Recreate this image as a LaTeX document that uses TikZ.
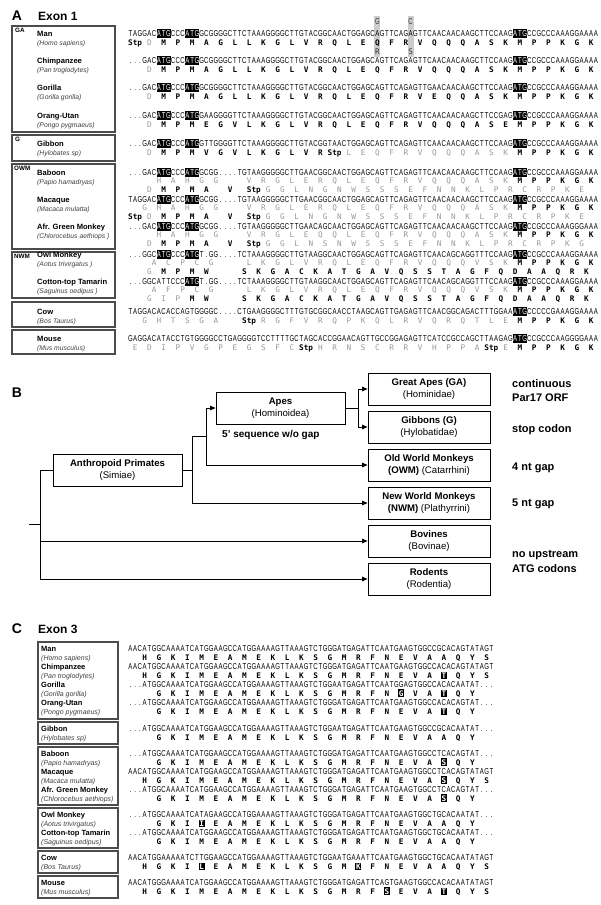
\documentclass[tikz,border=0pt]{standalone}
\usepackage{fontspec}
\setmainfont{Liberation Sans}
\newfontfamily\dnaf[FakeStretch=0.7]{Liberation Sans}
\newfontfamily\aaf{DejaVu Sans Mono}
\usetikzlibrary{arrows.meta}
\definecolor{aagray}{gray}{0.6}
\definecolor{boxgray}{gray}{0.3}
\newlength\cw \setlength\cw{4.75pt}
\makeatletter
\newif\ifdnahl
\newif\ifaagr
\newif\ifaahl
\def\tokLB{[}\def\tokRB{]}
\def\tokLT{<}\def\tokGT{>}\def\tokST{*}\def\tokUS{_}\def\tokDOT{.}
\newcommand\dna[1]{{\dnaf\fontsize{8.6}{9}\selectfont\dnahlfalse
  \@tfor\ntok:=#1\do{\dnacell}}}
\newcommand\dnacell{%
  \ifx\ntok\tokLB\dnahltrue\else
  \ifx\ntok\tokRB\dnahlfalse\else
  \ifdnahl\rlap{\color{black}\rule[-1.9pt]{\cw}{8.8pt}}\makebox[\cw][c]{\color{white}\ntok}%
  \else\makebox[\cw][c]{\ntok}\fi\fi\fi}
\newcommand\aarow[1]{{\aaf\fontsize{7.7}{9}\selectfont\aagrfalse\aahlfalse
  \@tfor\atok:=#1\do{\aacell}}}
\newcommand\aacell{%
  \ifx\atok\tokLT\aagrtrue\else
  \ifx\atok\tokGT\aagrfalse\else
  \ifx\atok\tokST\aahltrue\else
  \ifx\atok\tokUS\hspace*{\cw}\else
  \ifx\atok\tokDOT\hspace*{3\cw}\else
  \ifaahl\makebox[3\cw][c]{\hlbox{\atok}}\aahlfalse
  \else\ifaagr\makebox[3\cw][c]{\color{aagray}\atok}%
  \else\makebox[3\cw][c]{\bfseries\atok}\fi\fi
  \fi\fi\fi\fi\fi}
\newcommand\hlbox[1]{\setlength\fboxsep{0.8pt}\colorbox{black}{\color{white}\bfseries#1}}
\makeatother
\tikzset{
  seq/.style={anchor=base west, inner sep=0pt, outer sep=0pt},
  nm/.style={anchor=base west, inner sep=0pt, font=\fontsize{7.6}{9}\selectfont\bfseries},
  lt/.style={anchor=base west, inner sep=0pt, font=\fontsize{6.8}{9}\selectfont\itshape, text=black!75},
  nmC/.style={anchor=base west, inner sep=0pt, font=\fontsize{7.5}{9}\selectfont\bfseries},
  ltC/.style={anchor=base west, inner sep=0pt, font=\fontsize{7.0}{9}\selectfont\itshape, text=black!75},
  grp/.style={anchor=base west, inner sep=0pt, font=\fontsize{6.3}{7}\selectfont\bfseries},
  spbox/.style={draw=boxgray, line width=1.1pt},
  plab/.style={anchor=base, inner sep=0pt, font=\fontsize{14}{14}\selectfont\bfseries},
  ptitle/.style={anchor=base west, inner sep=0pt, font=\fontsize{12}{12}\selectfont\bfseries},
  tbox/.style={draw, line width=0.8pt, minimum width=122pt, minimum height=32pt, align=center, inner sep=1pt, font=\fontsize{9.6}{12.5}\selectfont},
  rl/.style={anchor=base west, inner sep=0pt, font=\fontsize{11}{13}\selectfont\bfseries},
  ln/.style={line width=0.8pt, black},
  arr/.style={line width=0.8pt, black, -{Triangle[length=5.5pt,width=4.5pt]}},
  var/.style={anchor=base, inner sep=0pt, text=black!80}
}
\newcommand\dnarow[3]{\node[seq] (#1) at (128,#2) {\dna{#3}};}
\newcommand\aminorow[3]{\node[seq] (#1) at (128,#2) {\aarow{#3}};}
\newcommand\spec[4]{\node[nm] (#1) at (37,#2) {#3}; \node[lt] (#1l) at (37,{#2+9}) {#4};}
\newcommand\specC[4]{\node[nmC] (#1) at (41,#2) {#3}; \node[ltC] (#1l) at (41,{#2+9}) {#4};}
\begin{document}
\begin{tikzpicture}[x=1pt,y=-1pt]
\path[use as bounding box, fill=white] (0,0) rectangle (600,905);

% ================= Panel A =================
\node[plab] (labA) at (17,20.5) {A};
\node[ptitle] (ex1) at (38,20) {Exon 1};

% polymorphism columns
\fill[gray!40] (374.4,16) rectangle (380.4,57);
\fill[gray!40] (407.6,16) rectangle (413.6,57);
\node[var] (vG) at (377.4,24) {\dnaf\fontsize{8.6}{9}\selectfont G};
\node[var] (vC) at (410.6,24) {\dnaf\fontsize{8.6}{9}\selectfont C};
\node[var] (vR) at (377.4,54) {\aaf\fontsize{7.7}{9}\selectfont R};
\node[var] (vS) at (410.6,54) {\aaf\fontsize{7.7}{9}\selectfont S};

% species boxes
\draw[spbox] (12,26) rectangle (115,132);
\draw[spbox] (12,135) rectangle (115,161);
\draw[spbox] (12,164) rectangle (115,249);
\draw[spbox] (12,252) rectangle (115,298);
\draw[spbox] (12,302) rectangle (115,327);
\draw[spbox] (12,330) rectangle (115,354);
\node[grp] (gGA) at (15,32) {GA};
\node[grp] (gG) at (15,141) {G};
\node[grp] (gOWM) at (14,170) {OWM};
\node[grp] (gNWM) at (14,258) {NWM};

\spec{aMan}{36}{Man}{(Homo sapiens)}
\spec{aChi}{63}{Chimpanzee}{(Pan troglodytes)}
\spec{aGor}{90}{Gorilla}{(Gorilla gorilla)}
\spec{aOra}{118}{Orang-Utan}{(Pongo pygmaeus)}
\spec{aGib}{146}{Gibbon}{(Hylobates sp)}
\spec{aBab}{175}{Baboon}{(Papio hamadryas)}
\spec{aMac}{202}{Macaque}{(Macaca mulatta)}
\spec{aAgm}{229}{Afr. Green Monkey}{(Chlorocebus aethiops )}
\spec{aOwl}{257}{Owl Monkey}{(Aotus trivirgatus )}
\spec{aTam}{284}{Cotton-top Tamarin}{(Saguinus oedipus )}
\spec{aCow}{314}{Cow}{(Bos Taurus)}
\spec{aMou}{341}{Mouse}{(Mus musculus)}

\dnarow{dManA}{36}{TAGGAC[ATG]CCC[ATG]GCGGGGCTTCTAAAGGGGCTTGTACGGCAACTGGAGCAGTTCAGAGTTCAACAACAAGCTTCCAAG[ATG]CCGCCCAAAGGAAAA}
\aminorow{pManA}{45}{{Stp}<D>MPMAGLLKGLVRQLEQFRVQQQASKMPPKGK}
\dnarow{dChiA}{63}{...GAC[ATG]CCC[ATG]GCGGGGCTTCTAAAGGGGCTTGTACGGCAACTGGAGCAGTTCAGAGTTCAACAACAAGCTTCCAAG[ATG]CCGCCCAAAGGAAAA}
\aminorow{pChiA}{72}{.<D>MPMAGLLKGLVRQLEQFRVQQQASKMPPKGK}
\dnarow{dGorA}{90}{...GAC[ATG]CCC[ATG]GCGGGGCTTCTAAAGGGGCTTGTACGGCAACTGGAGCAGTTCAGAGTTGAACAACAAGCTTCCAAG[ATG]CCGCCCAAAGGAAAA}
\aminorow{pGorA}{99}{.<D>MPMAGLLKGLVRQLEQFRVEQQASKMPPKGK}
\dnarow{dOraA}{118}{...GAC[ATG]CCC[ATG]GAAGGGGTTCTAAAGGGGCTTGTACGGCAACTGGAGCAGTTCAGAGTTCAACAACAAGCTTCCGAG[ATG]CCGCCCAAAGGAAAA}
\aminorow{pOraA}{127}{.<D>MPMEGVLKGLVRQLEQFRVQQQASEMPPKGK}
\dnarow{dGibA}{146}{...GAC[ATG]CCC[ATG]GTTGGGGTTCTAAAGGGGCTTGTACGGTAACTGGAGCAGTTCAGAGTTCAACAACAAGCTTCCAAG[ATG]CCGCCCAAAGGAAAA}
\aminorow{pGibA}{155}{.<D>MPMVGVLKGLVR{Stp}<LEQFRVQQQASK>MPPKGK}
\dnarow{dBabA}{175}{...GAC[ATG]CCC[ATG]GCGG....TGTAAGGGGGCTTGAACGGCAACTGGAGCAGTTCAGAGTTCAACAACAAGCTTCCAAG[ATG]CCGCCCAAAGGAAAA}
\aminorow{pBabA}{183.5}{_____<HAHGG____VRGLERQLEQFRVQQQASK>MPPKGK}
\aminorow{qBabA}{192}{.<D>MPMA__V__{Stp}<GGLNGNWSSSEFNNKLPRCRPKE}
\dnarow{dMacA}{202}{TAGGAC[ATG]CCC[ATG]GCGG....TGTAAGGGGGCTTGAACGGCAACTGGAGCAGTTCAGAGTTCAACAACAAGCTTCCAAG[ATG]CCGCCCAAAGGAAAA}
\aminorow{pMacA}{210.5}{__<GHAHGG____VRGLERQLEQFRVQQQASK>MPPKGK}
\aminorow{qMacA}{219}{{Stp}<D>MPMA__V__{Stp}<GGLNGNWSSSEFNNKLPRCRPKE}
\dnarow{dAgmA}{229}{...GAC[ATG]CCC[ATG]GCGG....TGTAAGGGGGCTTGAACAGCAACTGGAGCAGTTCAGAGTTCAACAACAAGCTTCCAAG[ATG]CCGCCCAAAGGGAAA}
\aminorow{pAgmA}{237.5}{_____<HAHGG____VRGLEQQLEQFRVQQQASK>MPPKGK}
\aminorow{qAgmA}{246}{.<D>MPMA__V__{Stp}<GGLNSNWSSSEFNNKLPRCRPKG}
\dnarow{dOwlA}{257}{...GGC[ATG]CCC[ATG]T.GG....TCTAAAGGGGCTTGTAAGGCAACTGGAGCAGTTCAGAGTTCAACAGCAGGTTTCCAAG[ATG]CCGCCCAAAGGAAAA}
\aminorow{pOwlA}{265.5}{____<ACPCG_____LKGLVRQLEQFRVQQQVSK>MPPKGK}
\aminorow{qOwlA}{274}{.<G>MPMW_____SKGACKATGAVQSSTAGFQDAAQRK}
\dnarow{dTamA}{284}{...GGCATTCCC[ATG]T.GG....TCTAAAGGGGCTTGTAAGGCAACTGGAGCAGTTCAGAGTTCAACAGCAGGTTTCCAAG[ATG]CCGCCCAAAGGAAAA}
\aminorow{pTamA}{292.5}{____<AFPCG_____LKGLVRQLEQFRVQQQVSK>MPPKGK}
\aminorow{qTamA}{301}{.<GIP>MW_____SKGACKATGAVQSSTAGFQDAAQRK}
\dnarow{dCowA}{314}{TAGGACACACCAGTGGGGC....CTGAAGGGGCTTTGTGCGGCAACCTAAGCAGTTGAGAGTTCAACGGCAGACTTTGGAA[ATG]CCCCCGAAAGGAAAA}
\aminorow{pCowA}{323}{__<GHTSGA____>{Stp}<RGFVRQPKQLRVQRQTLE>MPPKGK}
\dnarow{dMouA}{341}{GAGGACATACCTGTGGGGCCTGAGGGGTCCTTTTGCTAGCACCGGAACAGTTGCCGGAGAGTTCATCCGCCAGCTTAAGAG[ATG]CCGCCCAAGGGGAAA}
\aminorow{pMouA}{350}{<EDIPVGPEGSFC>{Stp}<HRNSCRRVHPPA>{Stp}<E>MPPKGK}

% ================= Panel B =================
\node[plab] (labB) at (17,397) {B};
\node[tbox] (ga) at (429,389) {\textbf{Great Apes (GA)}\\(Hominidae)};
\node[tbox] (gib) at (429,427) {\textbf{Gibbons (G)}\\(Hylobatidae)};
\node[tbox] (owm) at (429,465) {\textbf{Old World Monkeys}\\\textbf{(OWM)} (Catarrhini)};
\node[tbox] (nwm) at (429,503) {\textbf{New World Monkeys}\\\textbf{(NWM)} (Plathyrrini)};
\node[tbox] (bov) at (429,541) {\textbf{Bovines}\\(Bovinae)};
\node[tbox] (rod) at (429,579) {\textbf{Rodents}\\(Rodentia)};
\node[tbox, minimum width=129pt] (apes) at (280.5,408) {\textbf{Apes}\\(Hominoidea)};
\node[tbox, minimum width=129pt] (anth) at (117.5,470) {\textbf{Anthropoid Primates}\\(Simiae)};
\node[anchor=base west, inner sep=0pt, font=\fontsize{10}{12}\selectfont\bfseries] (gap5) at (222,437) {5' sequence w/o gap};

\coordinate (rs) at (29,524.5);
\coordinate (rm) at (40,524.5);
\coordinate (rt) at (40,470);
\coordinate (rb) at (40,579);
\coordinate (rv) at (40,541);
\coordinate (s1) at (192,470);
\coordinate (s1t) at (192,436.5);
\coordinate (s1b) at (192,503);
\coordinate (s2t) at (206,408);
\coordinate (s2m) at (206,436.5);
\coordinate (s2b) at (206,465);
\coordinate (s3) at (358,408);
\coordinate (s3t) at (358,389);
\coordinate (s3b) at (358,427);

\draw[ln] (rs) -- (rm);
\draw[ln] (anth.west) -- (rt) -- (rb);
\draw[arr] (rb) -- (rod.west);
\draw[arr] (rv) -- (bov.west);
\draw[ln] (anth.east) -- (s1);
\draw[ln] (s1t) -- (s1b);
\draw[arr] (s1b) -- (nwm.west);
\draw[ln] (s1t) -- (s2m);
\draw[ln] (s2t) -- (s2b);
\draw[arr] (s2t) -- (apes.west);
\draw[arr] (s2b) -- (owm.west);
\draw[ln] (apes.east) -- (s3);
\draw[ln] (s3t) -- (s3b);
\draw[arr] (s3t) -- (ga.west);
\draw[arr] (s3b) -- (gib.west);

\node[rl] (t1) at (512,387) {continuous};
\node[rl] (t2) at (512,401) {Par17 ORF};
\node[rl] (t3) at (512,432) {stop codon};
\node[rl] (t4) at (512,470) {4 nt gap};
\node[rl] (t5) at (512,506) {5 nt gap};
\node[rl] (t6) at (512,557) {no upstream};
\node[rl] (t7) at (512,572) {ATG codons};

% ================= Panel C =================
\node[plab] (labC) at (17,633.5) {C};
\node[ptitle] (ex3) at (38,633) {Exon 3};

\draw[spbox] (38,642) rectangle (118,719);
\draw[spbox] (38,722) rectangle (118,744);
\draw[spbox] (38,747) rectangle (118,805);
\draw[spbox] (38,808) rectangle (118,848);
\draw[spbox] (38,851) rectangle (118,873);
\draw[spbox] (38,876) rectangle (118,898);

\specC{cMan}{651}{Man}{(Homo sapiens)}
\specC{cChi}{669}{Chimpanzee}{(Pan troglodytes)}
\specC{cGor}{687}{Gorilla}{(Gorilla gorilla)}
\specC{cOra}{705}{Orang-Utan}{(Pongo pygmaeus)}
\specC{cGib}{731}{Gibbon}{(Hylobates sp)}
\specC{cBab}{756}{Baboon}{(Papio hamadryas)}
\specC{cMac}{774}{Macaque}{(Macaca mulatta)}
\specC{cAgm}{792}{Afr. Green Monkey}{(Chlorocebus aethiops)}
\specC{cOwl}{817}{Owl Monkey}{(Aotus trivirgatus)}
\specC{cTam}{835}{Cotton-top Tamarin}{(Saguinus oedipus)}
\specC{cCow}{860}{Cow}{(Bos Taurus)}
\specC{cMou}{885}{Mouse}{(Mus musculus)}

\dnarow{dManC}{651}{AACATGGCAAAATCATGGAAGCCATGGAAAAGTTAAAGTCTGGGATGAGATTCAATGAAGTGGCCGCACAGTATAGT}
\aminorow{pManC}{660}{__HGKIMEAMEKLKSGMRFNEVAAQYS}
\dnarow{dChiC}{669}{AACATGGCAAAATCATGGAAGCCATGGAAAAGTTAAAGTCTGGGATGAGATTCAATGAAGTGGCCACACAGTATAGT}
\aminorow{pChiC}{678}{__HGKIMEAMEKLKSGMRFNEVA*TQYS}
\dnarow{dGorC}{687}{...ATGGCAAAATCATGGAAGCCATGGAAAAGTTAAAGTCTGGAATGAGATTCAATGGAGTGGCCACACAATAT...}
\aminorow{pGorC}{696}{__.GKIMEAMEKLKSGMRFN*GVA*TQY}
\dnarow{dOraC}{705}{...ATGGCAAAATCATGGAAGCCATGGAAAAGTTAAAGTCTGGGATGAGATTCAATGAAGTGGCCACACAGTAT...}
\aminorow{pOraC}{714}{__.GKIMEAMEKLKSGMRFNEVA*TQY}
\dnarow{dGibC}{731}{...ATGGCAAAATCATGGAAGCCATGGAAAAGTTAAAGTCTGGAATGAGATTCAATGAAGTGGCCGCACAATAT...}
\aminorow{pGibC}{740}{__.GKIMEAMEKLKSGMRFNEVAAQY}
\dnarow{dBabC}{756}{...ATGGCAAAATCATGGAAGCCATGGAAAAGTTAAAGTCTGGGATGAGATTCAATGAAGTGGCCTCACAGTAT...}
\aminorow{pBabC}{765}{__.GKIMEAMEKLKSGMRFNEVA*SQY}
\dnarow{dMacC}{774}{AACATGGCAAAATCATGGAAGCCATGGAAAAGTTAAAGTCTGGGATGAGATTCAATGAAGTGGCCTCACAGTATAGT}
\aminorow{pMacC}{783}{__HGKIMEAMEKLKSGMRFNEVA*SQYS}
\dnarow{dAgmC}{792}{...ATGGCAAAATCATGGAAGCCATGGAAAAGTTAAAGTCTGGGATGAGATTCAATGAAGTGGCCTCACAGTAT...}
\aminorow{pAgmC}{801}{__.GKIMEAMEKLKSGMRFNEVA*SQY}
\dnarow{dOwlC}{817}{...ATGGCAAAATCATAGAAGCCATGGAAAAGTTAAAGTCTGGGATGAGATTCAATGAAGTGGCTGCACAATAT...}
\aminorow{pOwlC}{826}{__.GKI*IEAMEKLKSGMRFNEVAAQY}
\dnarow{dTamC}{835}{...ATGGCAAAATCATGGAAGCCATGGAAAAGTTAAAGTCTGGGATGAGATTCAATGAAGTGGCTGCACAATAT...}
\aminorow{pTamC}{844}{__.GKIMEAMEKLKSGMRFNEVAAQY}
\dnarow{dCowC}{860}{AACATGGAAAAATCTTGGAAGCCATGGAAAAGTTAAAGTCTGGAATGAAATTCAATGAAGTGGCTGCACAATATAGT}
\aminorow{pCowC}{869}{__HGKI*LEAMEKLKSGM*KFNEVAAQYS}
\dnarow{dMouC}{885}{AACATGGGAAAATCATGGAAGCCATGGAAAAGTTAAAGTCTGGGATGAGATTCAGTGAAGTGGCCACACAATATAGT}
\aminorow{pMouC}{894}{__HGKIMEAMEKLKSGMRF*SEVA*TQYS}
\end{tikzpicture}
\end{document}
